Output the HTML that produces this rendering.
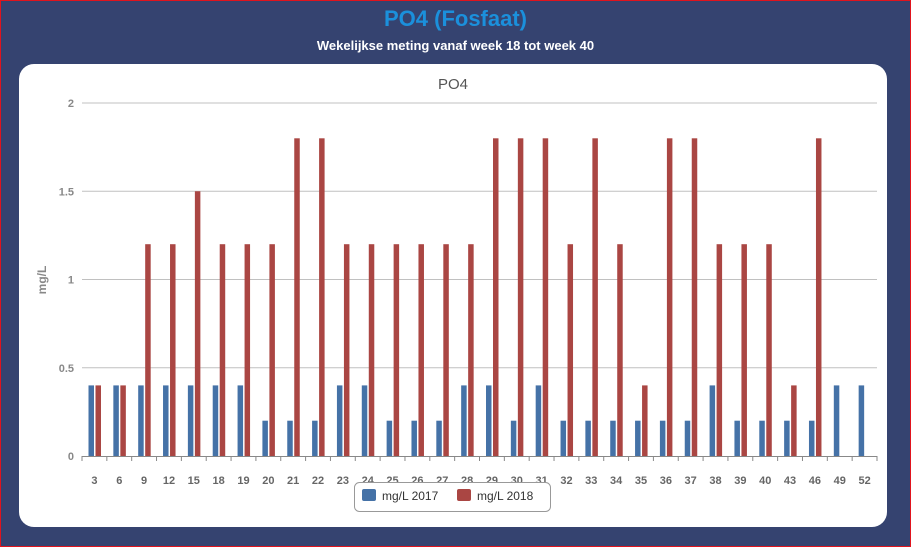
<!DOCTYPE html>
<html><head><meta charset="utf-8"><style>
html,body{margin:0;padding:0;}
body{width:911px;height:547px;overflow:hidden;background:#354370;font-family:"Liberation Sans",sans-serif;}
#frame{position:absolute;left:0;top:0;width:909px;height:545px;border:1px solid #e0141e;}
#t1{position:absolute;top:6px;width:911px;text-align:center;color:#1b90dc;font-weight:bold;font-size:22px;}
#t2{position:absolute;top:38px;width:911px;text-align:center;color:#fff;font-weight:bold;font-size:13px;}
#card{position:absolute;left:19px;top:64px;width:868px;height:463px;background:#fff;border-radius:15px;}
svg{position:absolute;left:0;top:0;}
</style></head><body>
<div id="frame"></div>
<div id="t1">PO4 (Fosfaat)</div>
<div id="t2">Wekelijkse meting vanaf week 18 tot week 40</div>
<div id="card"></div>
<svg id="chart" width="911" height="547"></svg>
<script>
const categories=['3','6','9','12','15','18','19','20','21','22','23','24','25','26','27','28','29','30','31','32','33','34','35','36','37','38','39','40','43','46','49','52'];
const values2017=[0.4,0.4,0.4,0.4,0.4,0.4,0.4,0.2,0.2,0.2,0.4,0.4,0.2,0.2,0.2,0.4,0.4,0.2,0.4,0.2,0.2,0.2,0.2,0.2,0.2,0.4,0.2,0.2,0.2,0.2,0.4,0.4];
const values2018=[0.4,0.4,1.2,1.2,1.5,1.2,1.2,1.2,1.8,1.8,1.2,1.2,1.2,1.2,1.2,1.2,1.8,1.8,1.8,1.2,1.8,1.2,0.4,1.8,1.8,1.2,1.2,1.2,0.4,1.8,null,null];
const yTicks=[0,0.5,1,1.5,2];
const NS='http://www.w3.org/2000/svg';
const svg=document.getElementById('chart');
const X0=82,X1=877,Y0=456,Y1=103,YMAX=2;
const bw=(X1-X0)/categories.length;
const xs=i=>X0+i*bw;
const ys=v=>Y0-(v/YMAX)*(Y0-Y1);
function mk(tag,attrs,txt){const e=document.createElementNS(NS,tag);for(const k in attrs)e.setAttribute(k,attrs[k]);if(txt!=null)e.textContent=txt;svg.appendChild(e);return e;}
let e;
e=mk('text',{x:453,y:89,'text-anchor':'middle','font-size':15,fill:'#555'},'PO4');


yTicks.forEach(v=>{
  if(v>0){e=mk('line',{x1:X0,x2:X1,y1:ys(v),y2:ys(v),stroke:'#c0c0c0','stroke-width':1});
  
  }
  e=mk('text',{x:74,y:ys(v)+4,'text-anchor':'end','font-size':11,'font-weight':'bold',fill:'#888'},String(v));
  
  
});
e=mk('text',{x:46,y:280,'text-anchor':'middle','font-size':12,'font-weight':'bold',fill:'#888',transform:'rotate(-90 46 280)'},'mg/L');


categories.forEach((c,i)=>{
  const x=xs(i);
  if(values2017[i]!=null){e=mk('rect',{x:x+6.5,y:ys(values2017[i]),width:5.5,height:Y0-ys(values2017[i]),fill:'#4572a7'});
  
  }
  if(values2018[i]!=null){e=mk('rect',{x:x+13.5,y:ys(values2018[i]),width:5.5,height:Y0-ys(values2018[i]),fill:'#aa4643'});
  
  }
  e=mk('line',{x1:x,x2:x,y1:Y0,y2:Y0+5,stroke:'#888'});
  
  
  e=mk('text',{x:x+bw/2,y:Y0+28,'text-anchor':'middle','font-size':11,'font-weight':'bold',fill:'#666'},c);
  
  
});
e=mk('line',{x1:X1,x2:X1,y1:Y0,y2:Y0+5,stroke:'#888'});


e=mk('line',{x1:X0,x2:X1,y1:Y0+0.5,y2:Y0+0.5,stroke:'#888'});


e=mk('rect',{x:354.5,y:482.5,width:196,height:29,rx:5,fill:'#fff',stroke:'#999'});


e=mk('rect',{x:362,y:489,width:14,height:12,rx:2,fill:'#4572a7'});


e=mk('text',{x:382,y:500,'font-size':12,fill:'#333'},'mg/L 2017');


e=mk('rect',{x:457,y:489,width:14,height:12,rx:2,fill:'#aa4643'});


e=mk('text',{x:477,y:500,'font-size':12,fill:'#333'},'mg/L 2018');


</script>
</body></html>
